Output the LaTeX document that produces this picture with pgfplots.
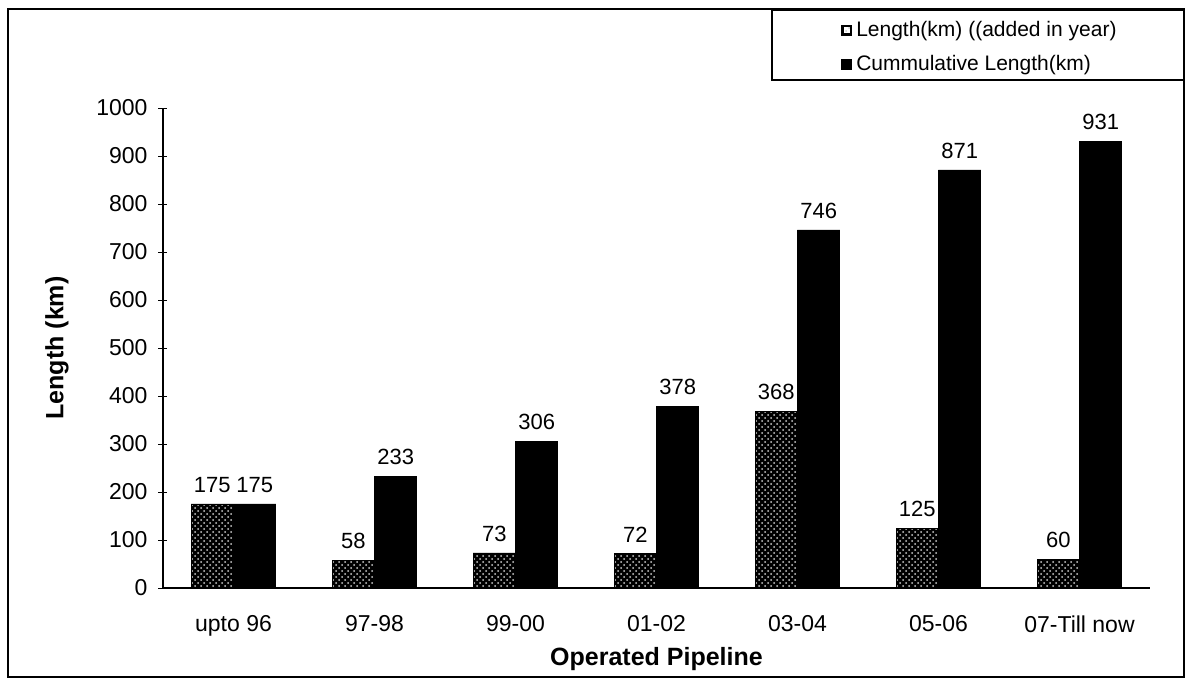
\documentclass[border=0pt]{standalone}
\usepackage{pgfplots}
\pgfplotsset{compat=1.18}
\usepackage{fontspec}
\setmainfont{Liberation Sans}
\usetikzlibrary{patterns}
\begin{document}
\begin{tikzpicture}
\path[use as bounding box] (-81.5pt,-45.5pt) rectangle (511.5pt,294pt);
\begin{axis}[
  scale only axis,
  width=493.5pt, height=240pt,
  at={(0,0)}, anchor=south west,
  ybar=0pt, bar width=0.3,
  xmin=-0.5, xmax=6.5,
  ymin=0, ymax=1000,
  ytick={0,100,...,1000},
  xtick={0,...,6},
  xticklabels={upto 96,97-98,99-00,01-02,03-04,05-06,07-Till now},
  x tick style={draw=none},
  extra x ticks={-0.5,0.5,1.5,2.5,3.5,4.5,5.5},
  extra x tick labels={},
  extra x tick style={tick style={draw=black}},
  major tick length=4.5pt,
  tick align=outside,
  y tick style={black},
  axis x line=bottom, axis y line=left,
  axis line style={-, black, line width=0.7pt},
  /pgf/number format/assume math mode=true,
  /pgf/number format/1000 sep={},
  ticklabel style={font=\fontsize{11.5}{13}\selectfont},
  yticklabel style={xshift=-2pt},
  xticklabel style={yshift=-8pt},
  xlabel={\textbf{Operated Pipeline}},
  xlabel style={font=\fontsize{12.5}{14}\selectfont, at={(axis description cs:0.5,0)}, anchor=center, yshift=-35.5pt},
  ylabel={\textbf{Length (km)}},
  ylabel style={font=\fontsize{12.5}{14}\selectfont, at={(axis description cs:0,0.5)}, anchor=center, yshift=53pt},
  nodes near coords,
  every node near coord/.append style={font=\fontsize{11}{13}\selectfont, black, inner sep=2.5pt, yshift=3pt},
  legend style={at={(0.687,1.19)}, anchor=north west, draw=none, fill=none,
    font=\fontsize{10.5}{12}\selectfont, inner sep=0pt, row sep=4pt},
  legend cell align=left,
]
\addplot[fill=black, draw=black, postaction={pattern=crosshatch dots, pattern color=black!20},
  legend image code/.code={\draw[black, line width=1.2pt, fill=white] (0.4pt,-2.1pt) rectangle (4.6pt,2.1pt);}]
  coordinates {(0,175) (1,58) (2,73) (3,72) (4,368) (5,125) (6,60)};
\addplot[fill=black, draw=black,
  legend image code/.code={\fill[black] (0pt,-2.5pt) rectangle (5pt,2.5pt);}]
  coordinates {(0,175) (1,233) (2,306) (3,378) (4,746) (5,871) (6,931)};
\legend{Length(km) ((added in year),Cummulative Length(km)}
\end{axis}
\draw[black, line width=0.8pt] (-77.5pt,-44.5pt) rectangle (510.5pt,289.5pt);
\draw[black, line width=0.6pt] (304.5pt,254pt) rectangle (510.5pt,289pt);
\end{tikzpicture}
\end{document}
